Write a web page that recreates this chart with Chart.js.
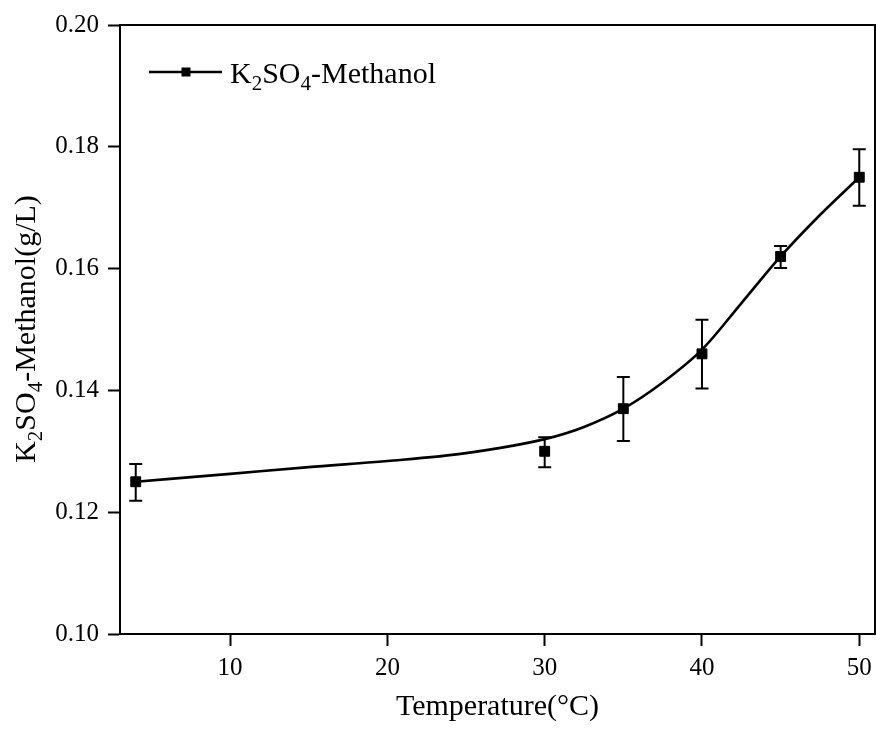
<!DOCTYPE html>
<html><head><meta charset="utf-8">
<script src="https://cdn.jsdelivr.net/npm/chart.js@4.4.0/dist/chart.umd.min.js"></script>
<style>html,body{margin:0;padding:0;background:#fff;overflow:hidden;} #wrap{width:876px;height:729px;overflow:hidden;}</style>
</head><body><div id="wrap"><canvas id="c" width="883" height="729"></canvas></div>
<script>
// Measured points and error bars
const temperatures = [4, 30, 35, 40, 45, 50];
const solubility = [0.125, 0.130, 0.137, 0.146, 0.162, 0.175];
const errLow = [0.1219, 0.1274, 0.1317, 0.1403, 0.1601, 0.1703];
const errHigh = [0.1279, 0.1323, 0.1422, 0.1516, 0.1637, 0.1796];
// Smooth fitted curve
const curveX = [4, 10, 15, 20, 25, 30, 32.5, 35, 37.5, 40, 42.5, 45, 47.5, 50];
const curveY = [0.1250, 0.1263, 0.1274, 0.1284, 0.1297, 0.1320, 0.1340, 0.1370, 0.1413, 0.1467, 0.1543, 0.1620, 0.1688, 0.1750];
const xTicks = [10, 20, 30, 40, 50];
const yTicks = [0.10, 0.12, 0.14, 0.16, 0.18, 0.20];
const xTitle = 'Temperature(°C)';
const seriesSegs = [{t:'K'},{t:'2',sub:true},{t:'SO'},{t:'4',sub:true},{t:'-Methanol'}];
const yTitleSegs = [{t:'K'},{t:'2',sub:true},{t:'SO'},{t:'4',sub:true},{t:'-Methanol(g/L)'}];

const FONT = '"Liberation Serif", "Times New Roman", serif';

function richWidth(ctx, segs, main, sub) {
  let w = 0;
  for (const s of segs) { ctx.font = (s.sub ? sub : main) + 'px ' + FONT; w += ctx.measureText(s.t).width; }
  return w;
}
function drawRich(ctx, segs, x, y, main, sub, off) {
  let cx = x;
  for (const s of segs) {
    ctx.font = (s.sub ? sub : main) + 'px ' + FONT;
    ctx.fillText(s.t, cx, y + (s.sub ? off : 0));
    cx += ctx.measureText(s.t).width;
  }
}

const decor = {
  id: 'decor',
  beforeDatasetsDraw(chart) {
    const ctx = chart.ctx, xs = chart.scales.x, ys = chart.scales.y;
    ctx.save();
    ctx.strokeStyle = '#000'; ctx.lineWidth = 2;
    for (let i = 0; i < temperatures.length; i++) {
      const px = xs.getPixelForValue(temperatures[i]);
      const pl = ys.getPixelForValue(errLow[i]);
      const ph = ys.getPixelForValue(errHigh[i]);
      ctx.beginPath();
      ctx.moveTo(px, pl); ctx.lineTo(px, ph);
      ctx.moveTo(px - 6.5, pl); ctx.lineTo(px + 6.5, pl);
      ctx.moveTo(px - 6.5, ph); ctx.lineTo(px + 6.5, ph);
      ctx.stroke();
    }
    ctx.restore();
  },
  afterDraw(chart) {
    const ctx = chart.ctx, a = chart.chartArea;
    ctx.save();
    // frame top/right
    ctx.strokeStyle = '#000'; ctx.lineWidth = 2;
    ctx.beginPath();
    ctx.moveTo(a.left - 1, a.top); ctx.lineTo(a.right, a.top); ctx.lineTo(a.right, a.bottom + 1);
    ctx.stroke();
    // legend
    ctx.lineWidth = 2.5;
    ctx.beginPath(); ctx.moveTo(149, 72); ctx.lineTo(222, 72); ctx.stroke();
    ctx.fillStyle = '#000';
    ctx.fillRect(181.5, 67.5, 9, 9);
    ctx.textBaseline = 'alphabetic'; ctx.textAlign = 'left';
    drawRich(ctx, seriesSegs, 230, 83, 30, 21, 7);
    // y title
    const w = richWidth(ctx, yTitleSegs, 30, 21);
    ctx.translate(35, 329);
    ctx.rotate(-Math.PI / 2);
    drawRich(ctx, yTitleSegs, -w / 2, 0, 30, 21, 7);
    ctx.restore();
  }
};

new Chart(document.getElementById('c'), {
  type: 'scatter',
  data: {
    datasets: [
      {
        label: 'fit',
        data: curveX.map((x, i) => ({x, y: curveY[i]})),
        showLine: true,
        borderColor: '#000',
        borderWidth: 2.6,
        pointRadius: 0,
        cubicInterpolationMode: 'monotone',
        fill: false
      },
      {
        label: 'K2SO4-Methanol',
        data: temperatures.map((x, i) => ({x, y: solubility[i]})),
        showLine: false,
        pointStyle: 'rect',
        pointRadius: 7,
        pointBackgroundColor: '#000',
        pointBorderColor: '#000',
        pointBorderWidth: 1
      }
    ]
  },
  options: {
    responsive: false,
    animation: false,
    devicePixelRatio: 1,
    layout: { padding: { top: 25, right: 0, left: 0, bottom: 0 } },
    plugins: { legend: { display: false }, tooltip: { enabled: false },
      title: { display: false } },
    scales: {
      x: {
        type: 'linear', min: 3, max: 51,
        afterBuildTicks: s => { s.ticks = xTicks.map(v => ({value: v})); },
        afterFit: s => { s.height = 95; s.paddingLeft = 0; s.paddingRight = 0; },
        border: { display: true, color: '#000', width: 2 },
        grid: { drawOnChartArea: false, drawTicks: true, tickLength: 12, tickColor: '#000', tickWidth: 2 },
        ticks: { color: '#000', font: { family: FONT, size: 25 }, padding: 7, maxRotation: 0,
          callback: v => String(v) },
        title: { display: true, text: xTitle, color: '#000', font: { family: FONT, size: 30 }, padding: { top: 4 } }
      },
      y: {
        type: 'linear', min: 0.10, max: 0.20,
        afterBuildTicks: s => { s.ticks = yTicks.map(v => ({value: v})); },
        afterFit: s => { s.width = 120; s.paddingTop = 0; s.paddingBottom = 0; },
        border: { display: true, color: '#000', width: 2 },
        grid: { drawOnChartArea: false, drawTicks: true, tickLength: 12, tickColor: '#000', tickWidth: 2 },
        ticks: { color: '#000', font: { family: FONT, size: 25 }, padding: 9,
          callback: v => Number(v).toFixed(2) }
      }
    }
  },
  plugins: [decor]
});
</script></body></html>
